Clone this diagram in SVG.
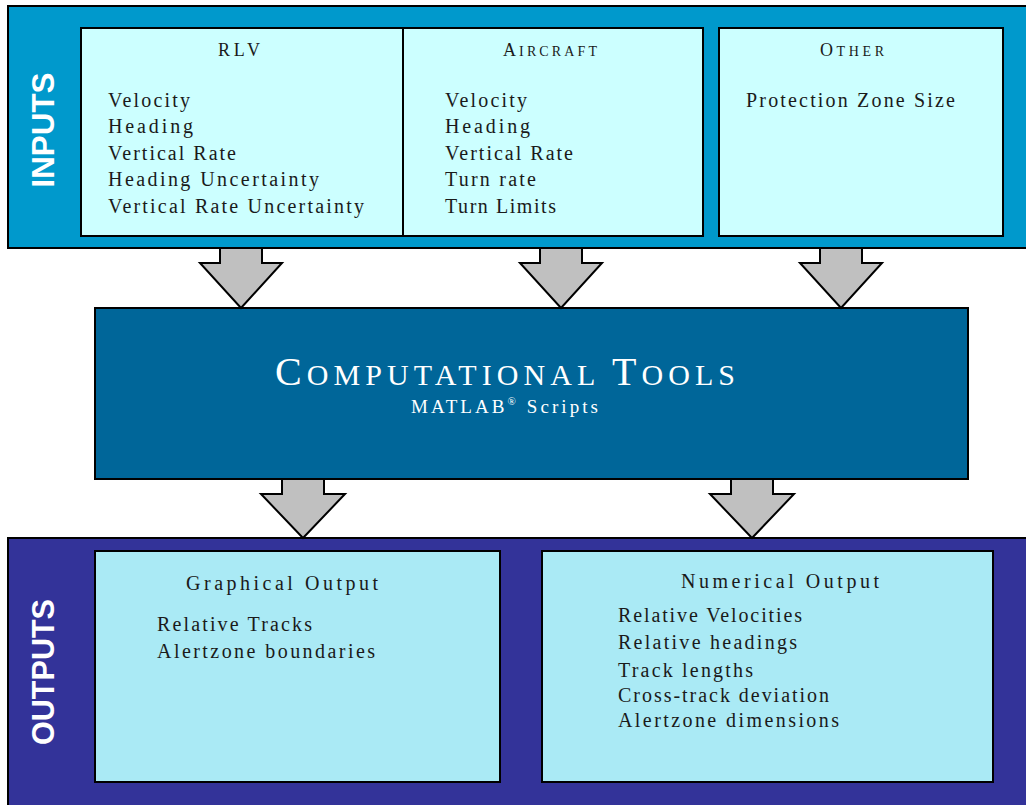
<svg xmlns="http://www.w3.org/2000/svg" width="1026" height="805" viewBox="0 0 1026 805">
  <style>
    .band-in { fill: #0099CC; stroke: #000; stroke-width: 2; }
    .band-out { fill: #333399; stroke: #000; stroke-width: 2; }
    .box-in { fill: #CCFFFF; stroke: #000; stroke-width: 2; }
    .box-out { fill: #AAEAF5; stroke: #000; stroke-width: 2; }
    .core { fill: #006699; stroke: #000; stroke-width: 2; }
    .arrow { fill: #C0C0C0; stroke: #000; stroke-width: 2; stroke-linejoin: miter; }
    .side { font-family: "Liberation Sans", Arial, sans-serif; font-weight: bold; font-size: 31px; fill: #fff; text-anchor: middle; }
    .t { font-family: "Liberation Serif", "Times New Roman", serif; font-size: 20px; fill: #1a1a1a; }
    .h { font-family: "Liberation Serif", "Times New Roman", serif; font-size: 18px; fill: #1a1a1a; }
    .sc { font-size: 14px; }
    .w { fill: #fff; }
  </style>

  <!-- Input band -->
  <g id="inputs">
    <rect class="band-in" x="8" y="6" width="1030" height="242"/>
    <text class="side" transform="translate(43,130) rotate(-90)" x="0" y="11" textLength="115" lengthAdjust="spacingAndGlyphs">INPUTS</text>
  </g>

  <g id="rlv">
    <rect class="box-in" x="81" y="28" width="322" height="208"/>
    <text class="h" x="218" y="56" textLength="42" lengthAdjust="spacing">RLV</text>
    <text class="t" x="108" y="107" textLength="82" lengthAdjust="spacing">Velocity</text>
    <text class="t" x="108" y="133" textLength="85" lengthAdjust="spacing">Heading</text>
    <text class="t" x="108" y="160" textLength="128" lengthAdjust="spacing">Vertical Rate</text>
    <text class="t" x="108" y="186" textLength="211" lengthAdjust="spacing">Heading Uncertainty</text>
    <text class="t" x="108" y="213" textLength="256" lengthAdjust="spacing">Vertical Rate Uncertainty</text>
  </g>

  <g id="aircraft">
    <rect class="box-in" x="403" y="28" width="300" height="208"/>
    <text class="h" x="503" y="56" textLength="94" lengthAdjust="spacing">A<tspan class="sc">IRCRAFT</tspan></text>
    <text class="t" x="445" y="107" textLength="82" lengthAdjust="spacing">Velocity</text>
    <text class="t" x="445" y="133" textLength="85" lengthAdjust="spacing">Heading</text>
    <text class="t" x="445" y="160" textLength="128" lengthAdjust="spacing">Vertical Rate</text>
    <text class="t" x="445" y="186" textLength="91" lengthAdjust="spacing">Turn rate</text>
    <text class="t" x="445" y="213" textLength="111" lengthAdjust="spacing">Turn Limits</text>
  </g>

  <g id="other">
    <rect class="box-in" x="719" y="28" width="284" height="208"/>
    <text class="h" x="820" y="56" textLength="64" lengthAdjust="spacing">O<tspan class="sc">THER</tspan></text>
    <text class="t" x="746" y="107" textLength="209" lengthAdjust="spacing">Protection Zone Size</text>
  </g>

  <!-- Processing block -->
  <g id="computational-tools">
    <rect class="core" x="95" y="308" width="873" height="171"/>
    <text class="h w" x="275" y="385" style="font-size:40px" textLength="460" lengthAdjust="spacing">C<tspan style="font-size:30px">OMPUTATIONAL </tspan>T<tspan style="font-size:30px">OOLS</tspan></text>
    <text class="h w" x="411" y="413" style="font-size:19px" textLength="187" lengthAdjust="spacing">MATLAB<tspan dy="-8" style="font-size:11px">®</tspan><tspan dy="8"> Scripts</tspan></text>
  </g>

  <!-- Output band -->
  <g id="outputs">
    <rect class="band-out" x="8" y="538" width="1030" height="280"/>
    <text class="side" transform="translate(43,672) rotate(-90)" x="0" y="11" textLength="146" lengthAdjust="spacingAndGlyphs">OUTPUTS</text>
  </g>

  <g id="graphical-output">
    <rect class="box-out" x="95" y="551" width="405" height="231"/>
    <text class="t" x="186" y="590" textLength="192" lengthAdjust="spacing">Graphical Output</text>
    <text class="t" x="157" y="631" textLength="155" lengthAdjust="spacing">Relative Tracks</text>
    <text class="t" x="157" y="658" textLength="218" lengthAdjust="spacing">Alertzone boundaries</text>
  </g>

  <g id="numerical-output">
    <rect class="box-out" x="542" y="551" width="451" height="231"/>
    <text class="t" x="681" y="588" textLength="198" lengthAdjust="spacing">Numerical Output</text>
    <text class="t" x="618" y="622" textLength="184" lengthAdjust="spacing">Relative Velocities</text>
    <text class="t" x="618" y="649" textLength="179" lengthAdjust="spacing">Relative headings</text>
    <text class="t" x="618" y="677" textLength="135" lengthAdjust="spacing">Track lengths</text>
    <text class="t" x="618" y="702" textLength="211" lengthAdjust="spacing">Cross-track deviation</text>
    <text class="t" x="618" y="727" textLength="221" lengthAdjust="spacing">Alertzone dimensions</text>
  </g>

  <!-- Block arrows between stages -->
  <g id="connectors">
    <path class="arrow" d="M220,248 L262,248 L262,263 L282,263 L241,308 L200,263 L220,263 Z"/>
    <path class="arrow" d="M540,248 L582,248 L582,263 L602,263 L561,308 L520,263 L540,263 Z"/>
    <path class="arrow" d="M820,248 L862,248 L862,263 L882,263 L841,308 L800,263 L820,263 Z"/>
    <path class="arrow" d="M282,479 L324,479 L324,494 L345,494 L303,538 L261,494 L282,494 Z"/>
    <path class="arrow" d="M731,479 L773,479 L773,494 L794,494 L752,538 L710,494 L731,494 Z"/>
  </g>
</svg>
